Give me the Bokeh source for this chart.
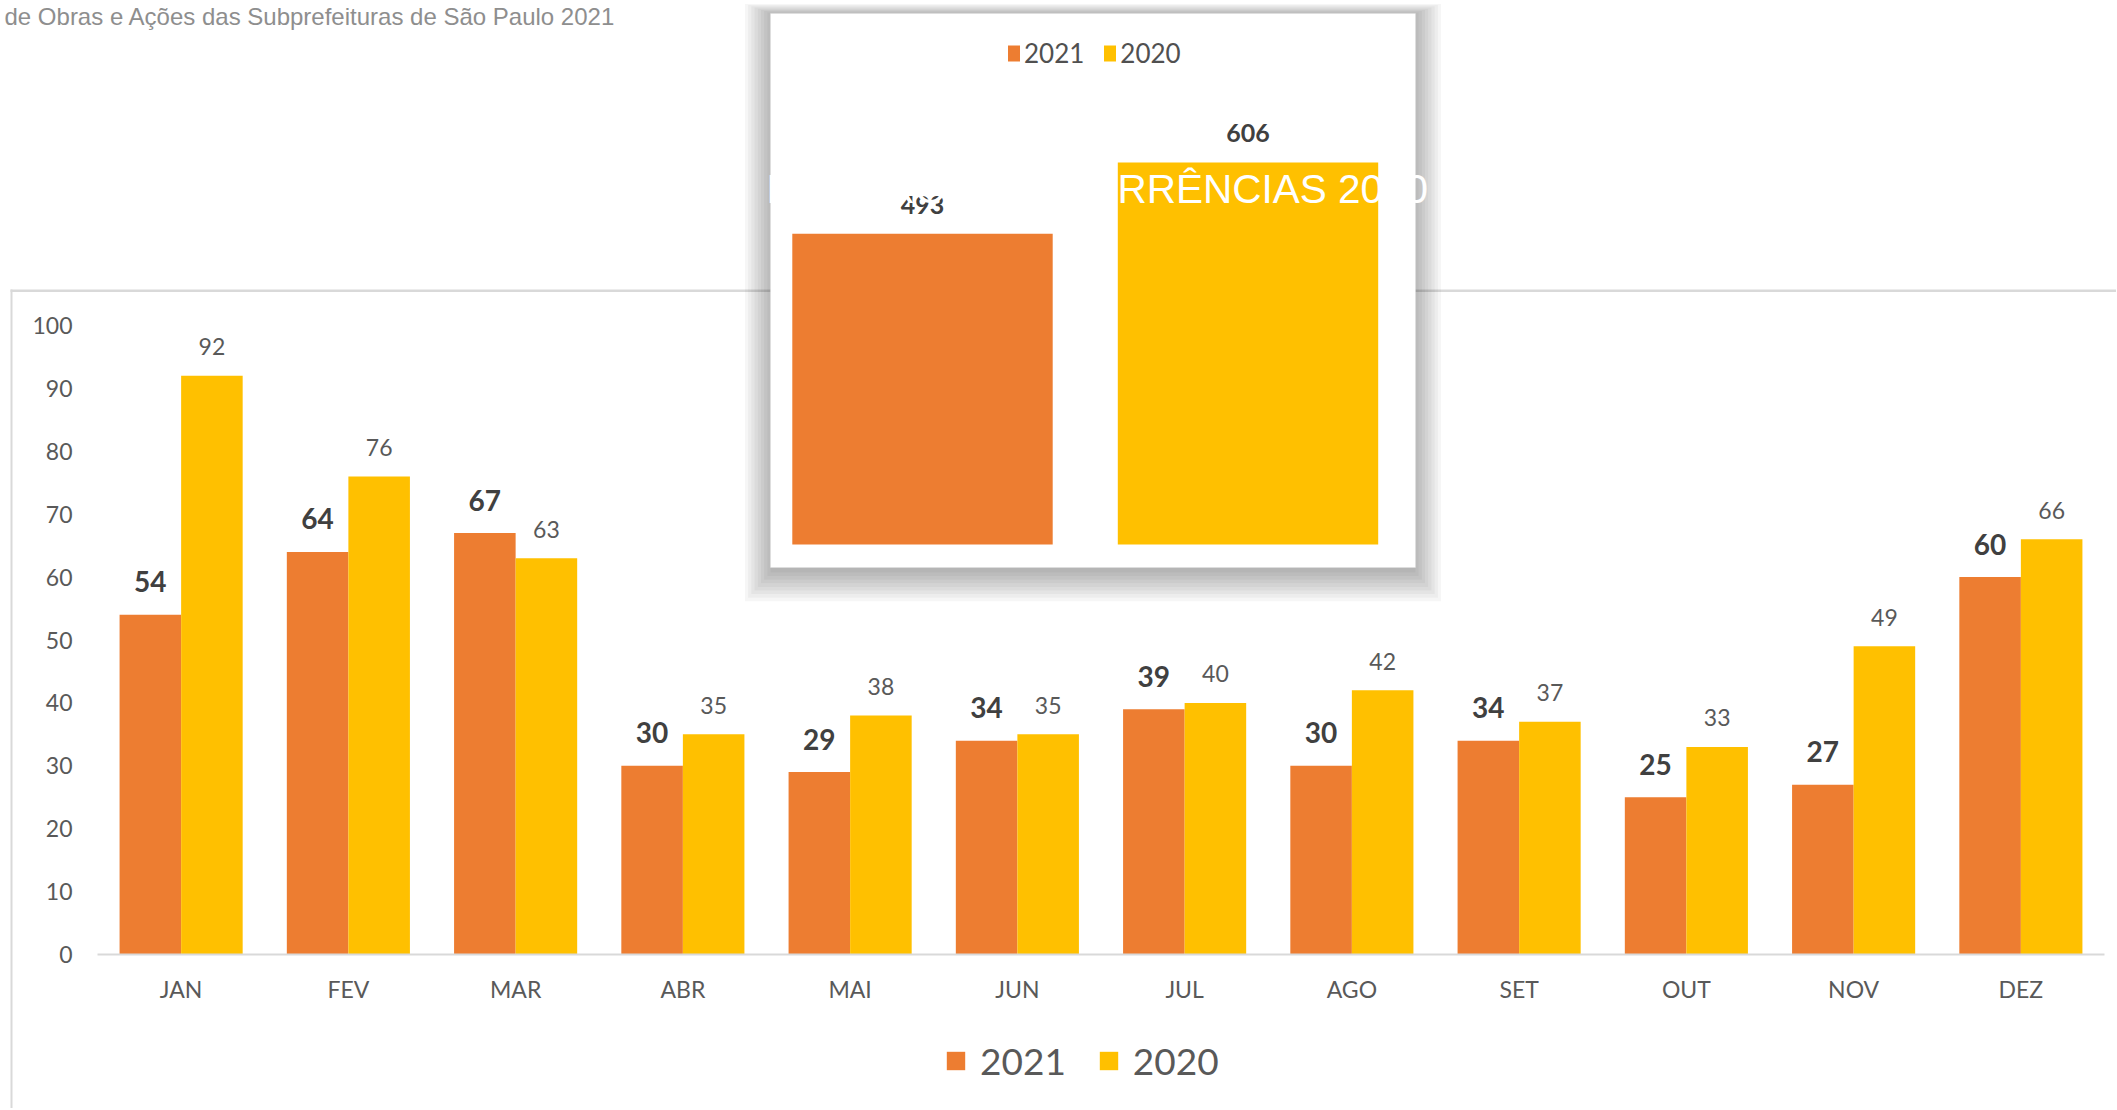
from bokeh.plotting import figure
from bokeh.models import (Range1d, FixedTicker, Legend, LegendItem, BoxAnnotation,
                          Label, ColumnDataSource)
from bokeh.transform import dodge
from bokeh.core.properties import value
from bokeh.embed import file_html
from bokeh.resources import INLINE

# ---------------- data ----------------
months = ["JAN", "FEV", "MAR", "ABR", "MAI", "JUN", "JUL", "AGO", "SET", "OUT", "NOV", "DEZ"]
v2021 = [54, 64, 67, 30, 29, 34, 39, 30, 34, 25, 27, 60]
v2020 = [92, 76, 63, 35, 38, 35, 40, 42, 37, 33, 49, 66]
series_names = ["2021", "2020"]
y_ticks = [0, 10, 20, 30, 40, 50, 60, 70, 80, 90, 100]

inset_cats = ["2021", "2020"]
inset_totals = [493, 606]

subtitle = "de Obras e Ações das Subprefeituras de São Paulo 2021"
inset_title = "NÚMERO DE OCORRÊNCIAS 2020 - 2021"

ORANGE = "#ED7D31"
YELLOW = "#FFC000"
GRAY_TXT = "#595959"
DARK_TXT = "#404040"
BORDER = "#d9d9d9"

# ---------------- layout (page pixels; the frame fills the canvas) ----------------
FW, FH = 2116, 1108
PLOT_L, PLOT_R, BASE_Y = 97, 2104, 954       # main plot area on the page
n_m = len(months)
unit_px = (PLOT_R - PLOT_L) / n_m             # one month slot
px_per_val = 6.29

inset_px_per_val = 0.6304
inset_zero_y = 544
inset_first_x = 922
inset_unit_px = 325.5


def sx(X):
    return X


def sy(Y):
    return FH - Y


pos = list(range(n_m))
x0 = PLOT_L + 0.5 * unit_px
p = figure(width=FW, height=FH,
           x_range=Range1d(-x0 / unit_px, (FW - x0) / unit_px),
           y_range=Range1d(-(FH - BASE_Y) / px_per_val, BASE_Y / px_per_val),
           output_backend="svg", toolbar_location=None,
           min_border_left=0, min_border_right=0, min_border_top=0, min_border_bottom=0)
p.outline_line_color = None
p.background_fill_color = None
p.border_fill_color = "white"
p.xgrid.grid_line_color = None
p.ygrid.grid_line_color = None

p.extra_x_ranges = {"ins": Range1d(-inset_first_x / inset_unit_px,
                                   (FW - inset_first_x) / inset_unit_px)}
p.extra_y_ranges = {"ins": Range1d(-(FH - inset_zero_y) / inset_px_per_val,
                                   inset_zero_y / inset_px_per_val)}


def box(l, r, t, b, **kw):
    p.add_layout(BoxAnnotation(left=sx(l), right=sx(r), top=sy(t), bottom=sy(b),
                               left_units="screen", right_units="screen",
                               top_units="screen", bottom_units="screen", **kw))


# ---------------- chart box border ----------------
box(10, FW + 5, 289, 291.5, fill_color=BORDER, fill_alpha=1, line_color=None, level="underlay")
box(10, 12, 289, FH + 5, fill_color=BORDER, fill_alpha=1, line_color=None, level="underlay")

# ---------------- inset panel with shadow ----------------
PL, PR, PT, PB = 770, 1415, 13, 567
for k in range(9):
    box(PL - 3.2 * k, PR + 3.2 * k, PT - 1.2 * k, PB + 5 + 3.6 * k,
        fill_color="black", fill_alpha=0.036, line_color=None, level="underlay")
box(PL, PR, PT, PB, fill_color="white", fill_alpha=1, line_color="#e6e6e6",
    line_width=1, level="underlay")

# ---------------- main bars ----------------
src = ColumnDataSource(dict(pos=pos, v2021=v2021, v2020=v2020,
                            l2021=[str(v) for v in v2021], l2020=[str(v) for v in v2020]))
bw = 0.368
r21 = p.vbar(x=dodge("pos", -bw / 2), top="v2021", width=bw,
             fill_color=ORANGE, line_color=None, source=src)
r20 = p.vbar(x=dodge("pos", bw / 2), top="v2020", width=bw,
             fill_color=YELLOW, line_color=None, source=src)

p.text(x=dodge("pos", -bw / 2), y="v2021", text="l2021", source=src,
       text_align="center", text_baseline="alphabetic", y_offset=-33,
       text_font=value("Lato"), text_font_style=value("bold"), text_font_size=value("28px"),
       text_color=DARK_TXT)
p.text(x=dodge("pos", bw / 2), y="v2020", text="l2020", source=src,
       text_align="center", text_baseline="alphabetic", y_offset=-29,
       text_font=value("Lato"), text_font_size=value("23px"), text_color=GRAY_TXT)

# ---------------- inset bars ----------------
isrc = ColumnDataSource(dict(ipos=list(range(len(inset_cats))), name=inset_cats,
                             tot=inset_totals, lab=[str(v) for v in inset_totals],
                             col=[ORANGE, YELLOW]))
ir = p.vbar(x="ipos", top="tot", width=0.8, source=isrc, fill_color="col", line_color=None,
            x_range_name="ins", y_range_name="ins")
p.text(x="ipos", y="tot", text="lab", source=isrc, x_range_name="ins", y_range_name="ins",
       text_align="center", text_baseline="alphabetic", y_offset=-29,
       text_font=value("Lato"), text_font_style=value("bold"), text_font_size=value("25px"),
       text_color=DARK_TXT)

# ---------------- axes (drawn inside the full-canvas frame) ----------------
p.yaxis.fixed_location = -0.5
p.yaxis.ticker = FixedTicker(ticks=y_ticks)
p.yaxis.axis_line_color = None
p.yaxis.major_tick_line_color = None
p.yaxis.minor_tick_line_color = None
p.yaxis.major_tick_out = 0
p.yaxis.major_tick_in = 0
p.yaxis.minor_tick_out = 0
p.yaxis.major_label_standoff = 25
p.yaxis.major_label_text_font = "Lato"
p.yaxis.major_label_text_font_size = "23px"
p.yaxis.major_label_text_color = GRAY_TXT

p.xaxis.fixed_location = 0
p.xaxis.bounds = (-0.5, n_m - 0.5)
p.xaxis.ticker = FixedTicker(ticks=pos)
p.xaxis.major_label_overrides = {i: m for i, m in zip(pos, months)}
p.xaxis.axis_line_color = BORDER
p.xaxis.axis_line_width = 2
p.xaxis.major_tick_line_color = None
p.xaxis.minor_tick_line_color = None
p.xaxis.major_tick_out = 0
p.xaxis.major_tick_in = 0
p.xaxis.minor_tick_out = 0
p.xaxis.major_label_standoff = 20
p.xaxis.major_label_text_font = "Lato"
p.xaxis.major_label_text_font_size = "23px"
p.xaxis.major_label_text_color = GRAY_TXT

# ---------------- legends ----------------
leg = Legend(items=[LegendItem(label=series_names[0], renderers=[r21]),
                    LegendItem(label=series_names[1], renderers=[r20])],
             orientation="horizontal", location=(sx(944), sy(1061) - 22),
             glyph_width=23, glyph_height=23, label_standoff=13, spacing=31,
             padding=0, margin=0, border_line_color=None, background_fill_alpha=0,
             label_text_font="Lato", label_text_font_size="37px",
             label_text_color=GRAY_TXT)
p.add_layout(leg)

ileg = Legend(items=[LegendItem(label=inset_cats[0], renderers=[ir], index=0),
                     LegendItem(label=inset_cats[1], renderers=[ir], index=1)],
              orientation="horizontal", location=(sx(1006), sy(53) - 15.5),
              glyph_width=15, glyph_height=20, label_standoff=3, spacing=18,
              padding=0, margin=0, border_line_color=None, background_fill_alpha=0,
              label_text_font="Lato", label_text_font_size="26px",
              label_text_color="#505050")
p.add_layout(ileg)

# ---------------- texts ----------------
p.add_layout(Label(x=sx(4), y=sy(16), x_units="screen", y_units="screen",
                   text=subtitle, text_baseline="middle", text_align="left",
                   text_font="Liberation Sans", text_font_size="24px",
                   text_color="#8e8e8e"))
p.add_layout(Label(x=sx(766), y=sy(188.5), x_units="screen", y_units="screen",
                   text=inset_title, text_baseline="middle", text_align="left",
                   text_font="Liberation Sans", text_font_size="40.5px",
                   text_color="white"))

open("out.html", "w").write(file_html(p, INLINE))
